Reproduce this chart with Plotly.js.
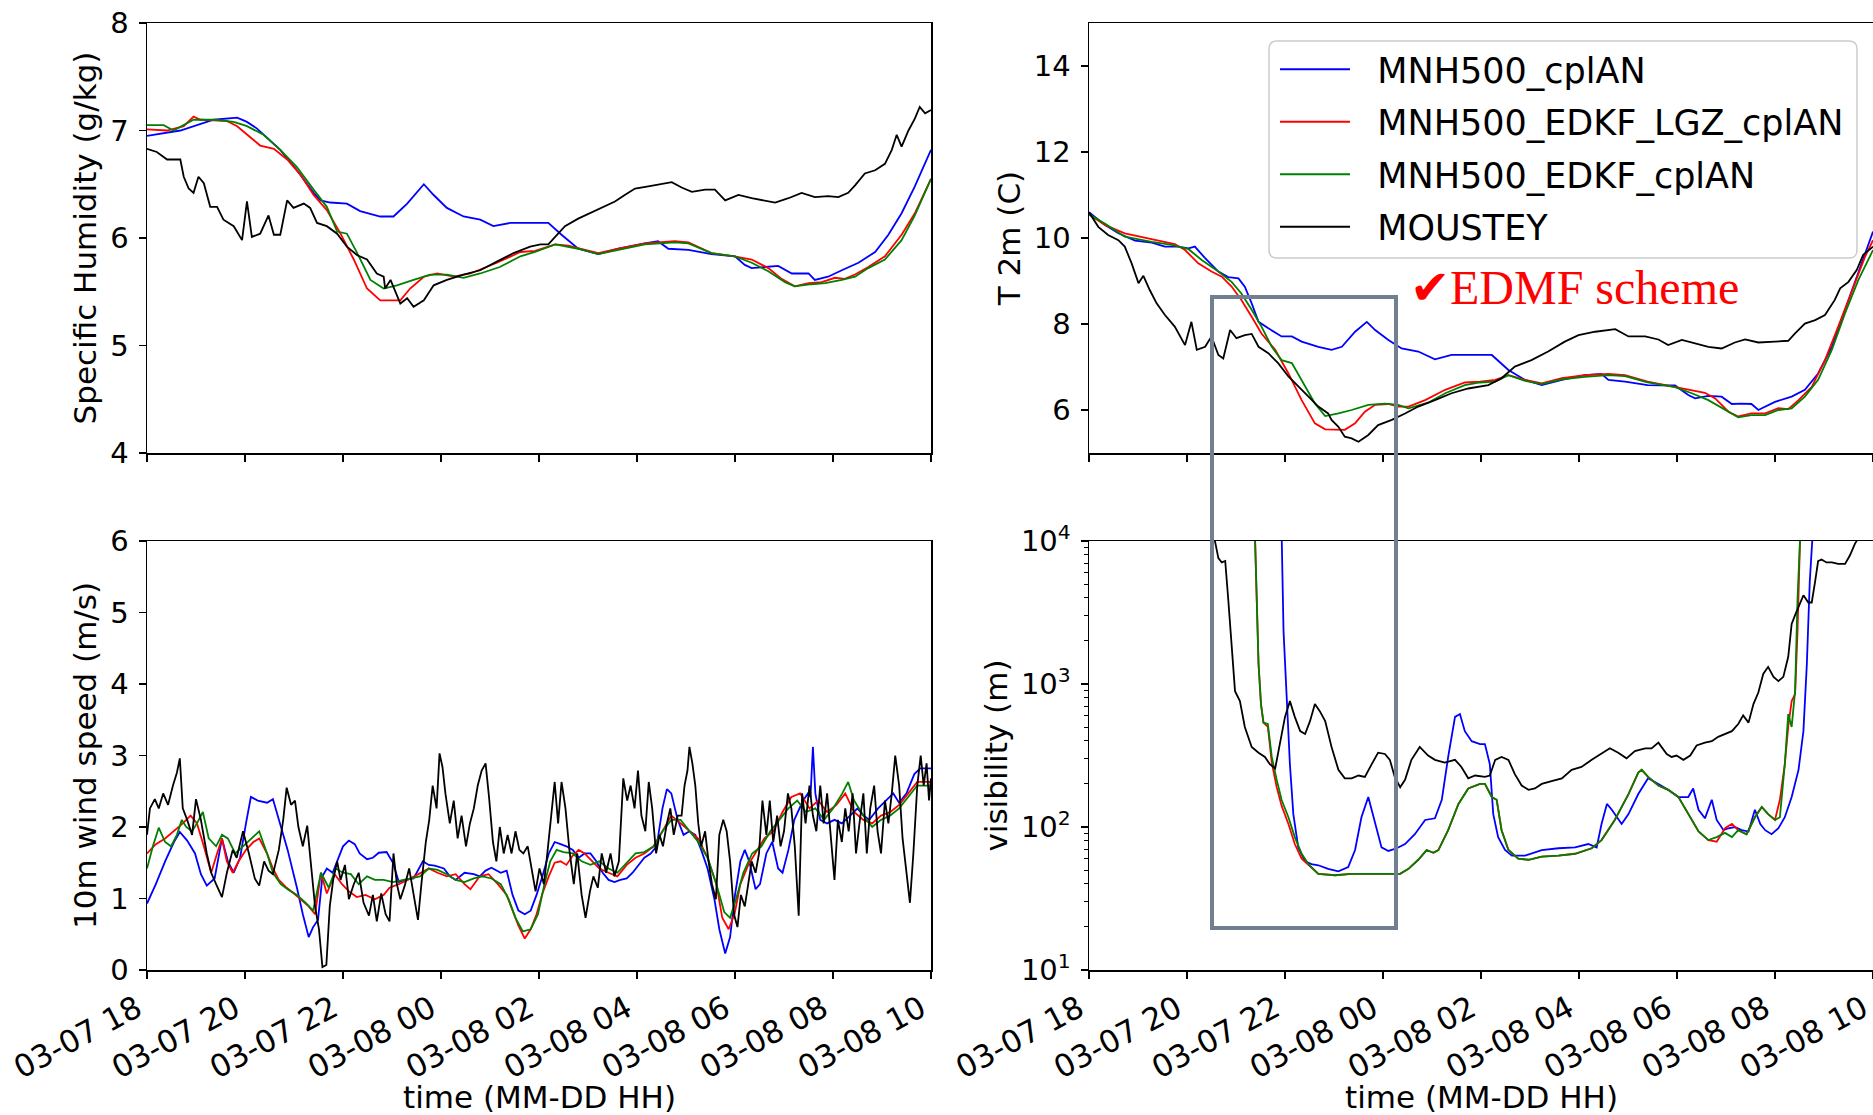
<!DOCTYPE html>
<html><head><meta charset="utf-8">
<script src="https://cdn.plot.ly/plotly-3.0.1.min.js"></script>
<style>html,body{margin:0;padding:0;overflow:hidden;background:#fff}</style>
</head><body><div id="chart" style="width:1900px;height:1115px"></div>
<script>
// ---- series names ----
const names = ['MNH500_cplAN','MNH500_EDKF_LGZ_cplAN','MNH500_EDKF_cplAN','MOUSTEY'];
const colors = ['#0000ff','#ff0000','#008000','#000000'];
const xTickLabelsFormat = '%m-%d %H';
const xTitle = 'time (MM-DD HH)';
const startTime = '2018-03-07 18:00';
const endTime = '2018-03-08 10:00';

// ---- Specific humidity (g/kg); times in hours after 03-07 18:00 ----
const qBlueH = [0,0.68,1.36,1.84,2.04,2.24,2.72,3.06,3.4,3.54,3.74,4.08,4.35,4.76,5.03,5.31,5.65,5.85,6.12,6.46,6.8,7.07,7.41,8.03,8.19,8.46,8.8,9.21,9.62,10.16,10.43,10.64,11.05,11.52,12.0,12.2,12.34,12.61,12.88,13.16,13.5,13.63,13.9,14.18,14.52,14.86,15.13,15.4,15.67,16.0];
const qBlue  = [6.95,7.0,7.10,7.12,7.08,7.02,6.82,6.63,6.42,6.35,6.33,6.32,6.25,6.20,6.20,6.32,6.50,6.40,6.28,6.20,6.17,6.11,6.14,6.14,6.14,6.03,5.90,5.85,5.90,5.95,5.97,5.90,5.89,5.85,5.83,5.75,5.72,5.73,5.74,5.67,5.67,5.61,5.64,5.70,5.77,5.87,6.03,6.23,6.48,6.82];
const qRedH = [0,0.41,0.75,0.95,1.09,1.63,1.84,2.04,2.31,2.59,2.86,3.13,3.4,3.67,3.95,4.22,4.49,4.76,5.17,5.37,5.65,5.92,6.26,6.6,7.14,7.62,7.92,8.33,8.6,8.94,9.21,9.62,10.16,10.77,11.05,11.52,11.99,12.34,12.68,12.95,13.22,13.5,13.77,14.04,14.24,14.45,14.72,15.06,15.4,15.67,16.0];
const qRed  = [7.01,7.0,7.04,7.13,7.10,7.09,7.04,6.96,6.86,6.83,6.73,6.59,6.40,6.26,6.04,5.80,5.53,5.42,5.42,5.53,5.64,5.67,5.64,5.67,5.77,5.87,5.88,5.94,5.93,5.89,5.86,5.90,5.95,5.97,5.96,5.86,5.83,5.80,5.72,5.62,5.55,5.58,5.59,5.63,5.62,5.66,5.73,5.83,6.03,6.23,6.55];
const qGreenH = [0,0.34,0.54,0.95,1.36,1.77,2.04,2.38,2.72,3.06,3.4,3.67,3.88,4.08,4.29,4.56,4.83,5.1,5.44,5.78,6.12,6.46,6.8,7.2,7.62,7.92,8.33,8.8,9.21,9.62,10.16,10.77,11.05,11.52,11.99,12.34,12.68,13.02,13.22,13.56,13.84,14.18,14.45,14.72,15.06,15.4,15.67,16.0];
const qGreen  = [7.05,7.05,7.0,7.10,7.10,7.08,7.04,6.96,6.82,6.66,6.45,6.29,6.06,6.04,5.86,5.61,5.53,5.56,5.61,5.66,5.66,5.63,5.67,5.73,5.83,5.87,5.94,5.90,5.85,5.89,5.94,5.96,5.95,5.86,5.83,5.77,5.69,5.59,5.55,5.57,5.58,5.61,5.64,5.72,5.80,5.98,6.21,6.55];
const qObsH = [0,0.2,0.41,0.68,0.75,0.85,0.95,1.05,1.16,1.29,1.43,1.56,1.77,1.94,2.04,2.14,2.31,2.48,2.59,2.72,2.86,2.99,3.2,3.33,3.47,3.67,3.88,4.08,4.29,4.49,4.69,4.83,4.86,4.97,5.17,5.31,5.44,5.65,5.85,6.12,6.46,6.8,7.14,7.48,7.82,8.03,8.19,8.33,8.53,8.8,9.14,9.55,9.75,9.96,10.23,10.5,10.71,10.91,11.12,11.39,11.59,11.8,12.07,12.34,12.61,12.82,13.09,13.36,13.63,13.9,14.11,14.31,14.45,14.65,14.86,15.06,15.2,15.3,15.4,15.54,15.67,15.77,15.88,16.0];
const qObs  = [6.83,6.80,6.73,6.73,6.57,6.46,6.42,6.57,6.51,6.29,6.29,6.17,6.11,5.98,6.34,6.01,6.04,6.21,6.03,6.03,6.35,6.28,6.32,6.28,6.14,6.11,6.04,5.92,5.84,5.80,5.67,5.64,5.53,5.61,5.39,5.44,5.36,5.42,5.56,5.61,5.66,5.70,5.78,5.86,5.92,5.94,5.94,6.01,6.11,6.18,6.25,6.34,6.40,6.46,6.48,6.50,6.52,6.47,6.43,6.45,6.45,6.35,6.40,6.37,6.35,6.33,6.37,6.42,6.38,6.39,6.38,6.42,6.49,6.60,6.63,6.69,6.82,6.96,6.85,7.0,7.11,7.22,7.16,7.19];

// ---- T 2m (C) ----
const tBlueH = [0,0.33,0.6,0.94,1.28,1.55,1.82,2.03,2.16,2.37,2.64,2.84,3.05,3.18,3.32,3.46,3.66,3.93,4.14,4.34,4.68,4.95,5.16,5.43,5.67,5.84,6.11,6.38,6.72,7.06,7.4,7.98,8.22,8.56,8.9,9.24,9.65,10.12,10.46,10.6,10.94,11.4,11.96,12.23,12.37,12.64,12.91,13.12,13.32,13.52,13.66,14.0,14.34,14.61,14.88,15.16,15.43,15.7,16.0];
const tBlue  = [10.6,10.30,10.11,9.94,9.89,9.80,9.80,9.76,9.80,9.53,9.22,9.09,9.06,8.87,8.48,8.05,7.90,7.71,7.71,7.59,7.47,7.40,7.47,7.82,8.05,7.86,7.63,7.43,7.36,7.18,7.28,7.28,7.28,6.93,6.70,6.58,6.70,6.81,6.84,6.70,6.66,6.58,6.57,6.35,6.27,6.33,6.31,6.14,6.15,6.14,6.00,6.19,6.31,6.47,6.85,7.47,8.33,9.18,10.15];
const tRedH = [0,0.33,0.73,1.07,1.41,1.75,1.96,2.23,2.5,2.71,2.91,3.11,3.32,3.52,3.8,4.07,4.34,4.61,4.82,5.22,5.43,5.63,5.84,6.11,6.31,6.52,6.86,7.27,7.67,7.98,8.29,8.56,8.9,9.24,9.65,10.12,10.6,10.94,11.4,11.96,12.3,12.57,12.78,13.05,13.25,13.52,13.8,14.07,14.27,14.48,14.75,15.02,15.29,15.57,15.84,16.0];
const tRed  = [10.55,10.30,10.11,10.03,9.95,9.86,9.72,9.41,9.22,9.10,8.87,8.56,8.17,7.78,7.40,6.85,6.23,5.69,5.55,5.54,5.69,5.96,6.12,6.14,6.08,6.08,6.23,6.47,6.64,6.66,6.70,6.81,6.70,6.62,6.74,6.81,6.84,6.81,6.66,6.54,6.45,6.40,6.27,5.96,5.85,5.92,5.92,6.04,6.02,6.23,6.54,7.16,7.94,8.79,9.57,9.95];
const tGreenH = [0,0.33,0.73,1.28,1.69,2.03,2.3,2.64,2.91,3.11,3.32,3.52,3.73,3.93,4.14,4.34,4.61,4.82,5.09,5.36,5.7,6.04,6.31,6.52,6.92,7.27,7.67,7.98,8.29,8.56,8.9,9.24,9.65,10.12,10.6,10.94,11.4,11.96,12.3,12.64,12.98,13.25,13.52,13.8,14.07,14.34,14.61,14.88,15.16,15.43,15.7,16.0];
const tGreen  = [10.55,10.33,10.03,9.91,9.84,9.74,9.49,9.22,8.98,8.71,8.33,7.94,7.47,7.16,7.09,6.70,6.15,5.86,5.92,6.0,6.12,6.15,6.12,6.04,6.17,6.39,6.58,6.64,6.66,6.81,6.68,6.60,6.71,6.77,6.81,6.79,6.64,6.53,6.39,6.23,6.0,5.83,5.88,5.88,6.0,6.04,6.31,6.70,7.40,8.25,9.02,9.72];
const tObsH = [0,0.19,0.39,0.6,0.73,0.87,1.01,1.11,1.24,1.38,1.55,1.75,1.96,2.09,2.2,2.37,2.5,2.64,2.74,2.88,3.01,3.18,3.32,3.46,3.66,3.86,4.07,4.27,4.48,4.68,4.88,4.95,5.09,5.22,5.36,5.5,5.7,5.9,6.18,6.45,6.72,7.06,7.4,7.74,7.98,8.15,8.42,8.69,9.03,9.37,9.71,9.99,10.33,10.74,11.01,11.35,11.62,11.82,12.1,12.37,12.64,12.91,13.18,13.39,13.66,14.0,14.27,14.41,14.61,14.82,15.02,15.22,15.33,15.5,15.67,15.8,16.0];
const tObs  = [10.6,10.26,10.07,9.95,9.80,9.41,8.95,9.12,8.79,8.48,8.21,7.94,7.51,8.05,7.40,7.47,7.71,7.28,7.20,7.86,7.67,7.74,7.77,7.47,7.32,7.09,6.78,6.54,6.31,6.08,5.92,5.77,5.61,5.38,5.34,5.26,5.42,5.65,5.77,5.92,6.08,6.23,6.39,6.50,6.54,6.58,6.74,7.01,7.16,7.36,7.59,7.74,7.82,7.88,7.71,7.71,7.64,7.51,7.63,7.55,7.47,7.43,7.57,7.64,7.57,7.59,7.61,7.78,8.01,8.09,8.21,8.56,8.83,8.98,9.26,9.61,9.8];

// ---- 10m wind speed (m/s) ----
const wBlueH = [0,0.18,0.37,0.55,0.67,0.82,0.98,1.1,1.22,1.38, 1.53,1.65,1.77,1.9,2.02,2.12,2.26,2.45,2.57,2.69, 2.87,3.06,3.18,3.3,3.39,3.49,3.58,3.67,3.79,3.88, 4.0,4.12,4.24,4.34,4.49,4.61,4.73,4.89,5.02,5.14, 5.26,5.44,5.63,5.75,5.87,6.06,6.18,6.3,6.48,6.67, 6.79,6.91,7.03,7.22,7.34,7.46,7.58,7.71,7.83,7.95, 8.07,8.2,8.32,8.44,8.56,8.69,8.81,8.93,9.05,9.17, 9.3,9.42,9.54,9.66,9.79,9.91,10.03,10.15,10.28,10.4, 10.52,10.61,10.7,10.83,10.95,11.07,11.19,11.31,11.44,11.58, 11.68,11.8,11.9,12.0,12.11,12.2,12.29,12.42,12.51,12.64, 12.76,12.88,12.97,13.09,13.21,13.39,13.49,13.54,13.59,13.64, 13.74,13.88,14.03,14.18,14.35,14.5,14.62,14.74,14.92,15.08, 15.23,15.35,15.5,15.66,15.78,16.0];
const wBlue  = [0.93,1.20,1.52,1.79,1.93,1.81,1.63,1.34,1.18,1.28, 1.84,1.52,1.36,1.57,2.05,2.42,2.37,2.34,2.39,2.10, 1.68,1.15,0.78,0.46,0.60,0.70,1.31,1.42,1.36,1.52, 1.73,1.81,1.76,1.63,1.55,1.57,1.64,1.65,1.50,1.23, 1.26,1.28,1.52,1.47,1.46,1.42,1.31,1.26,1.36,1.34, 1.31,1.39,1.43,1.36,1.39,1.05,0.83,0.78,0.83,1.05, 1.31,1.63,1.79,1.76,1.73,1.68,1.57,1.63,1.63,1.52, 1.36,1.26,1.23,1.26,1.28,1.36,1.47,1.57,1.63,1.73, 2.26,2.53,2.47,2.10,1.89,1.94,1.89,1.68,1.42,0.99, 0.57,0.23,0.46,1.05,1.52,1.68,1.52,1.13,1.20,1.63, 1.79,1.42,1.36,1.68,2.10,2.37,2.47,2.42,3.12,2.47, 2.10,2.05,2.10,2.05,2.16,2.26,2.16,2.10,2.26,2.37, 2.47,2.34,2.47,2.74,2.82,2.82];
const wRedH = [0,0.18,0.37,0.55,0.73,0.89,1.02,1.16,1.31,1.43, 1.53,1.63,1.75,1.87,2.02,2.17,2.29,2.45,2.57,2.69, 2.85,3.0,3.14,3.3,3.43,3.55,3.67,3.83,3.98,4.12, 4.28,4.46,4.65,4.83,4.95,5.14,5.32,5.57,5.75,5.93, 6.12,6.3,6.48,6.6,6.79,6.97,7.16,7.34,7.46,7.58, 7.71,7.83,7.95,8.07,8.2,8.32,8.44,8.56,8.69,8.81, 8.93,9.05,9.23,9.42,9.6,9.79,9.97,10.15,10.34,10.52, 10.7,10.89,11.07,11.25,11.44,11.62,11.74,11.87,11.99,12.11, 12.27,12.42,12.6,12.78,12.97,13.15,13.33,13.52,13.7,13.88, 14.07,14.25,14.43,14.62,14.8,14.98,15.17,15.35,15.53,15.72, 16.0];
const wRed  = [1.63,1.76,1.84,1.94,2.05,2.16,2.05,1.73,1.36,1.63, 1.84,1.52,1.36,1.52,1.68,1.79,1.84,1.63,1.42,1.26, 1.15,1.07,0.99,0.89,0.78,1.36,1.07,1.34,1.20,1.10, 1.02,1.05,0.99,1.05,1.15,1.20,1.26,1.36,1.42,1.36, 1.31,1.34,1.20,1.13,1.31,1.34,1.20,1.05,0.83,0.62, 0.44,0.57,0.78,1.07,1.31,1.50,1.52,1.47,1.60,1.68, 1.63,1.55,1.42,1.36,1.31,1.47,1.57,1.63,1.73,1.94, 2.16,2.05,1.94,1.84,1.57,1.20,0.73,0.57,0.78,1.20, 1.47,1.63,1.84,1.94,2.21,2.42,2.47,2.26,2.37,2.21, 2.31,2.47,2.21,2.10,2.05,2.16,2.21,2.31,2.47,2.63, 2.63];
const wGreenH = [0,0.12,0.24,0.37,0.49,0.61,0.71,0.8,0.92,1.02, 1.14,1.26,1.41,1.53,1.65,1.8,1.96,2.14,2.29,2.45, 2.57,2.73,2.87,3.06,3.24,3.39,3.55,3.71,3.85,4.0, 4.16,4.32,4.49,4.65,4.83,5.02,5.2,5.38,5.57,5.75, 5.93,6.12,6.3,6.48,6.67,6.85,7.03,7.22,7.38,7.52, 7.67,7.83,7.98,8.11,8.23,8.36,8.5,8.69,8.87,9.05, 9.23,9.42,9.6,9.79,9.97,10.15,10.34,10.52,10.7,10.89, 11.07,11.25,11.44,11.62,11.78,11.9,12.02,12.17,12.35,12.54, 12.72,12.9,13.09,13.27,13.45,13.64,13.82,14.0,14.19,14.31, 14.43,14.62,14.8,14.98,15.17,15.35,15.53,15.72,16.0];
const wGreen  = [1.42,1.73,1.99,1.79,1.73,1.89,2.10,2.0,1.94,2.05, 2.21,1.84,1.73,1.89,1.84,1.63,1.73,1.84,1.94,1.63, 1.36,1.20,1.13,1.05,0.94,0.83,1.36,1.15,1.42,1.36, 1.34,1.20,1.31,1.26,1.26,1.23,1.26,1.28,1.31,1.42, 1.40,1.34,1.26,1.23,1.28,1.31,1.28,1.20,0.99,0.73, 0.54,0.57,0.78,1.20,1.52,1.68,1.65,1.63,1.52,1.47, 1.52,1.42,1.36,1.50,1.63,1.65,1.73,1.94,2.10,2.10, 1.94,1.79,1.57,1.20,0.81,0.73,0.99,1.36,1.63,1.73, 1.94,2.10,2.26,2.37,2.21,2.26,2.10,2.26,2.47,2.63, 2.37,2.16,2.0,2.10,2.16,2.26,2.42,2.58,2.58];
const wObsH = [0,0.06,0.16,0.24,0.33,0.43,0.53,0.61,0.67,0.73, 0.82,0.92,1.0,1.1,1.22,1.31,1.41,1.53,1.63,1.75, 1.83,1.96,2.08,2.2,2.29,2.39,2.48,2.57,2.69,2.78, 2.85,2.94,3.02,3.09,3.18,3.27,3.34,3.43,3.51,3.58, 3.66,3.73,3.8,3.88,3.95,4.04,4.12,4.22,4.32,4.42, 4.53,4.61,4.69,4.78,4.87,4.95,5.03,5.1,5.17,5.26, 5.35,5.44,5.53,5.6,5.69,5.76,5.83,5.91,5.97,6.03, 6.09,6.18,6.26,6.34,6.42,6.51,6.59,6.67,6.75,6.83, 6.91,6.98,7.06,7.13,7.2,7.28,7.36,7.44,7.52,7.6, 7.68,7.77,7.84,7.93,8.01,8.1,8.17,8.26,8.32,8.39, 8.46,8.54,8.62,8.71,8.78,8.87,8.95,9.04,9.11,9.2, 9.28,9.37,9.46,9.54,9.63,9.72,9.8,9.87,9.95,10.02, 10.09,10.17,10.24,10.31,10.39,10.46,10.53,10.61,10.68,10.75, 10.83,10.91,10.97,11.03,11.07,11.13,11.19,11.25,11.31,11.39, 11.46,11.53,11.61,11.68,11.76,11.83,11.9,11.98,12.05,12.12, 12.2,12.27,12.34,12.42,12.49,12.56,12.64,12.71,12.78,12.86, 12.93,13.0,13.08,13.15,13.22,13.3,13.37,13.44,13.52,13.59, 13.66,13.74,13.81,13.88,13.96,14.03,14.1,14.18,14.25,14.32, 14.4,14.47,14.54,14.62,14.69,14.76,14.84,14.91,14.98,15.06, 15.13,15.2,15.27,15.35,15.42,15.5,15.57,15.64,15.72,15.79, 15.85,15.91,15.96,16.0];
const wObs  = [1.89,2.26,2.39,2.26,2.47,2.31,2.58,2.76,2.96,2.26, 2.10,1.89,2.39,2.10,1.63,1.36,1.20,1.02,1.36,1.68, 1.57,1.94,1.63,1.28,1.18,1.52,1.39,1.34,1.68,2.10, 2.55,2.31,2.37,2.0,1.73,2.02,1.52,0.89,0.57,0.04, 0.07,0.89,1.26,1.52,1.26,1.47,0.99,1.20,1.36,0.94, 0.76,1.05,0.68,1.07,0.78,0.68,1.63,1.20,0.99,1.18, 1.42,1.05,0.70,1.20,1.79,2.10,2.58,2.26,3.03,2.84, 2.47,2.05,2.37,1.84,2.16,1.73,2.05,2.26,2.58,2.79, 2.89,2.42,1.79,1.52,2.0,1.63,1.89,1.63,1.94,1.68, 1.63,1.73,1.47,1.10,1.42,1.20,1.63,2.21,2.63,2.05, 2.63,2.26,1.68,1.20,1.63,1.05,0.73,1.10,1.31,1.15, 1.63,1.36,1.63,1.31,1.52,2.68,2.37,2.58,2.26,2.79, 2.16,1.94,2.63,2.26,1.63,1.89,1.73,2.05,2.26,1.89, 2.16,2.16,2.58,2.79,3.12,2.89,2.58,2.05,1.73,1.94, 1.52,1.20,0.99,1.89,2.10,1.94,1.52,0.78,0.60,1.05, 0.89,1.20,1.52,1.36,1.63,2.37,1.89,2.37,1.79,2.16, 1.73,1.94,2.47,2.26,1.73,0.76,2.47,2.05,2.58,2.16, 1.94,2.58,2.05,2.47,1.79,1.26,2.10,1.79,2.26,1.94, 2.47,1.63,2.05,2.47,1.63,2.26,2.58,1.94,1.63,2.37, 2.05,2.47,3.0,2.58,1.84,1.31,0.94,1.63,2.58,3.0, 2.58,2.89,2.37,2.68];

// ---- visibility (m) ----
const vBlueH = [0,3.90,3.97,4.03,4.10,4.17,4.27,4.41,4.54,4.68,4.88,5.09,5.29,5.43,5.56,5.70,5.84,5.97,6.11,6.28,6.45,6.65,6.86,7.06,7.20,7.33,7.47,7.57,7.67,7.81,7.98,8.08,8.18,8.25,8.35,8.49,8.63,8.90,9.24,9.58,9.92,10.19,10.36,10.46,10.57,10.67,10.87,11.01,11.21,11.41,11.62,11.82,12.03,12.23,12.33,12.44,12.57,12.71,12.81,12.95,13.05,13.18,13.32,13.46,13.59,13.70,13.80,13.93,14.07,14.20,14.34,14.48,14.58,14.65,14.71,14.76,14.80,16.0];
const vBlue  = [40000,40000,2344,813,275,123,72,57.5,55,54,51,49,52.5,69,117,162,105,72,68,71,76,89,112,115,155,309,589,617,468,398,380,380,275,123,85,69,63,63,69,71,72,76,72,105,145,132,105,123,170,219,200,182,162,162,186,132,115,155,112,95,98,100,95,93,132,105,95,89,98,117,162,251,468,1380,5248,10000,40000,40000];
const vRedH = [0,3.36,3.39,3.42,3.46,3.51,3.56,3.65,3.73,3.83,3.93,4.07,4.20,4.34,4.48,4.68,5.02,5.36,5.70,6.04,6.35,6.52,6.72,6.89,7.03,7.13,7.33,7.54,7.74,7.98,8.08,8.22,8.32,8.42,8.56,8.76,8.97,9.24,9.58,9.92,10.26,10.46,10.73,11.01,11.21,11.28,11.41,11.62,11.82,12.03,12.23,12.44,12.64,12.81,12.98,13.12,13.25,13.42,13.59,13.73,13.86,14.00,14.10,14.20,14.27,14.34,14.41,14.46,14.51,14.55,16.0];
const vRed  = [40000,40000,10000,3981,1380,724,537,501,282,190,141,105,76,60,54,47,46,47,47,47,47,51,59,69,66,69,95,145,186,200,200,162,155,95,69,60,59,62,63,65,71,81,112,170,240,251,224,195,182,162,123,93,81,79,98,105,95,89,117,138,123,112,155,275,501,759,851,2344,10000,40000,40000];
const vGreenH = [0,3.36,3.39,3.42,3.46,3.51,3.56,3.65,3.73,3.83,3.93,4.07,4.20,4.34,4.48,4.68,5.02,5.36,5.70,6.04,6.35,6.52,6.72,6.89,7.03,7.13,7.33,7.54,7.74,7.98,8.08,8.22,8.32,8.42,8.56,8.76,8.97,9.24,9.58,9.92,10.26,10.46,10.73,11.01,11.21,11.28,11.41,11.62,11.82,12.03,12.23,12.44,12.64,12.81,12.98,13.12,13.25,13.42,13.59,13.73,13.86,14.00,14.10,14.20,14.27,14.34,14.41,14.46,14.51,14.55,16.0];
const vGreen  = [40000,40000,10000,3981,1380,724,537,525,309,214,155,117,85,65,55,47,46,47,47,47,47,51,59,69,66,69,95,145,186,200,200,162,155,95,69,60,59,62,63,65,71,81,112,170,240,251,224,195,182,162,123,93,81,85,91,85,95,89,117,138,123,112,117,275,617,501,891,3981,10000,40000,40000];
const vObsH = [0,2.50,2.57,2.64,2.71,2.78,2.84,2.91,2.98,3.08,3.18,3.32,3.46,3.59,3.69,3.80,3.90,4.00,4.10,4.20,4.31,4.41,4.51,4.61,4.71,4.82,4.95,5.09,5.22,5.36,5.50,5.63,5.77,5.90,6.04,6.14,6.24,6.35,6.45,6.58,6.75,6.92,7.06,7.26,7.47,7.60,7.74,7.88,8.08,8.18,8.29,8.42,8.56,8.69,8.83,8.97,9.10,9.24,9.44,9.65,9.85,10.05,10.26,10.46,10.63,10.80,10.97,11.14,11.35,11.48,11.62,11.79,11.89,11.99,12.13,12.27,12.40,12.57,12.71,12.84,12.98,13.12,13.25,13.35,13.46,13.56,13.66,13.76,13.86,13.97,14.07,14.17,14.27,14.34,14.42,14.51,14.58,14.68,14.75,14.82,14.88,14.95,15.05,15.16,15.29,15.43,15.53,15.63,15.70,15.80,16.0];
const vObs  = [40000,40000,10000,7586,7079,7244,3981,1820,891,759,501,363,331,309,275,257,380,589,759,589,468,447,550,724,646,550,363,251,219,219,229,224,275,331,324,295,224,190,214,295,363,316,295,282,295,263,219,229,224,229,295,309,295,234,195,182,186,200,209,219,251,263,295,324,355,331,302,339,355,355,389,324,309,316,295,316,372,389,398,427,447,468,525,603,537,724,871,1175,1318,1122,1047,1122,1549,2630,3090,3631,4169,3715,3715,5248,7244,7413,7079,7079,6918,6918,7943,9550,10471,20000,20000];

// ---- helpers ----
const T0 = Date.UTC(2018, 2, 7, 18, 0, 0);
const toTime = hs => hs.map(h => T0 + h * 3600000);

const panels = [
  {xa:'x',  ya:'y',  sets:[[qBlueH,qBlue],[qRedH,qRed],[qGreenH,qGreen],[qObsH,qObs]]},
  {xa:'x2', ya:'y2', sets:[[tBlueH,tBlue],[tRedH,tRed],[tGreenH,tGreen],[tObsH,tObs]], legend:true},
  {xa:'x3', ya:'y3', sets:[[wBlueH,wBlue],[wRedH,wRed],[wGreenH,wGreen],[wObsH,wObs]]},
  {xa:'x4', ya:'y4', sets:[[vBlueH,vBlue],[vRedH,vRed],[vGreenH,vGreen],[vObsH,vObs]]}
];
const traces = [];
panels.forEach(p => {
  p.sets.forEach((s, i) => {
    traces.push({
      type:'scatter', mode:'lines', x: toTime(s[0]), y: s[1],
      xaxis:p.xa, yaxis:p.ya, name: '\u00a0\u00a0' + names[i],
      line:{color: colors[i], width: 1.8},
      showlegend: !!p.legend, legendgroup: 'g' + i,
      hoverinfo:'skip'
    });
  });
});

// page is 1873 px wide; the figure is slightly wider so the right panels run off the edge
const W = 1900, H = 1115;
const fx = px => px / W, fy = py => 1 - py / H;
const tickFontY = {family:'DejaVu Sans', size:29, color:'#000'};
const tickFontX = {family:'DejaVu Sans', size:31, color:'#000'};
const titleFont = {family:'DejaVu Sans', size:31, color:'#000'};
const pxPerHour = 49;
const baseX = {
  type:'date', tick0:startTime, dtick:7200000,
  tickformat:xTickLabelsFormat, ticks:'outside', ticklen:7, tickwidth:1.5, tickcolor:'#000',
  showline:true, mirror:true, linecolor:'#000', linewidth:1.5,
  showgrid:false, zeroline:false, tickfont:tickFontX, tickangle:-28,
  ticklabelstandoff:0, ticklabelshift:-10
};
const baseY = {
  ticks:'outside', ticklen:7, tickwidth:1.5, tickcolor:'#000',
  showline:true, mirror:true, linecolor:'#000', linewidth:1.5,
  showgrid:false, zeroline:false, tickfont:tickFontY, ticklabelstandoff:4
};
const extraH = 0.3; // right panels continue past the page edge
const rightEnd = T0 + (16 + extraH) * 3600000;
const leftDom = [fx(147), fx(931)], rightDom = [fx(1089), fx(1873 + extraH * pxPerHour)];
const topDom = [fy(453), fy(23)], botDom = [fy(970), fy(541)];

const minorVals = [];
[10, 100, 1000].forEach(d => { for (let k = 2; k <= 9; k++) minorVals.push(k * d); });

// legend frame (rounded box) in paper coordinates
const bx0 = fx(1269), bx1 = fx(1857), by0 = fy(258), by1 = fy(41);
const rx = 8 / W, ry = 8 / H;
const boxPath = `M${bx0+rx},${by1} L${bx1-rx},${by1} Q${bx1},${by1} ${bx1},${by1-ry} L${bx1},${by0+ry} Q${bx1},${by0} ${bx1-rx},${by0} L${bx0+rx},${by0} Q${bx0},${by0} ${bx0},${by0+ry} L${bx0},${by1-ry} Q${bx0},${by1} ${bx0+rx},${by1} Z`;

const layout = {
  width: W, height: H, margin:{l:0, r:0, t:0, b:0},
  paper_bgcolor:'#fff', plot_bgcolor:'#fff',
  font:{family:'DejaVu Sans', color:'#000'},
  xaxis: Object.assign({}, baseX, {domain:leftDom, anchor:'y', range:[startTime, endTime], showticklabels:false}),
  yaxis: Object.assign({}, baseY, {domain:topDom, anchor:'x', range:[4,8], dtick:1,
          title:{text:'Specific Humidity (g/kg)', font:titleFont, standoff:4}}),
  xaxis2: Object.assign({}, baseX, {domain:rightDom, anchor:'y2', range:[startTime, rightEnd], showticklabels:false}),
  yaxis2: Object.assign({}, baseY, {domain:topDom, anchor:'x2', range:[5,15], tick0:0, dtick:2,
          title:{text:'T 2m (C)', font:titleFont, standoff:4}}),
  xaxis3: Object.assign({}, baseX, {domain:leftDom, anchor:'y3', range:[startTime, endTime]}),
  yaxis3: Object.assign({}, baseY, {domain:botDom, anchor:'x3', range:[0,6], dtick:1,
          title:{text:'10m wind speed (m/s)', font:titleFont, standoff:4}}),
  xaxis4: Object.assign({}, baseX, {domain:rightDom, anchor:'y4', range:[startTime, rightEnd]}),
  yaxis4: Object.assign({}, baseY, {domain:botDom, anchor:'x4', type:'log', range:[1,4],
          tickvals:[10,100,1000,10000],
          ticktext:['10<sup>1</sup>','10<sup>2</sup>','10<sup>3</sup>','10<sup>4</sup>'],
          minor:{tickvals:minorVals, ticks:'outside', ticklen:4, tickwidth:1, tickcolor:'#000', showgrid:false},
          title:{text:'visibility (m)', font:titleFont, standoff:4}}),
  showlegend:true,
  legend:{x:fx(1275), y:fy(40), xanchor:'left', yanchor:'top',
          bgcolor:'rgba(0,0,0,0)', borderwidth:0,
          font:{family:'DejaVu Sans', size:35, color:'#000'},
          traceorder:'grouped', tracegroupgap:4, itemwidth:70},
  shapes:[
    {type:'path', xref:'paper', yref:'paper', path:boxPath,
     line:{color:'#cccccc', width:1.5}, fillcolor:'rgba(255,255,255,0.8)', layer:'above'},
    {type:'rect', xref:'paper', yref:'paper',
     x0:fx(1212), x1:fx(1396), y0:fy(928), y1:fy(297),
     line:{color:'#708090', width:4}, fillcolor:'rgba(0,0,0,0)', layer:'above'}],
  annotations:[
    {xref:'paper', yref:'paper', x:fx(1574), y:fy(287), xanchor:'center', yanchor:'middle',
     text:'\u2714EDMF scheme', showarrow:false,
     font:{family:'Liberation Serif', size:48, color:'#ff0000'}},
    // x-axis titles, centred under each bottom panel
    {xref:'paper', yref:'paper', x:fx(539), y:fy(1097), xanchor:'center', yanchor:'middle',
     text:xTitle, showarrow:false, font:titleFont},
    {xref:'paper', yref:'paper', x:fx(1481), y:fy(1097), xanchor:'center', yanchor:'middle',
     text:xTitle, showarrow:false, font:titleFont}
  ]
};

Plotly.newPlot('chart', traces, layout, {staticPlot:true, displayModeBar:false});
</script>
</body></html>
